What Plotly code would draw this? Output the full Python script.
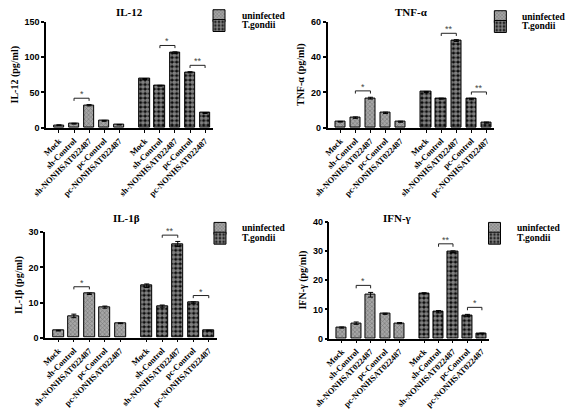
import plotly.graph_objects as go

W, H = 567, 410

categories = ["Mock", "sh-Control", "sh-NONHSAT022487", "pc-Control", "pc-NONHSAT022487"]
groups = ["uninfected", "T.gondii"]

titles = ["IL-12", "TNF-α", "IL-1β", "IFN-γ"]
ytitles = ["IL-12 (pg/ml)", "TNF-α (pg/ml)", "IL-1β (pg/ml)", "IFN-γ (pg/ml)"]

il12_uninf = [4.0, 6.0, 32.0, 10.0, 4.5]
il12_tg = [69.0, 59.5, 106.0, 78.5, 21.0]
il12_uninf_err = [0.4, 0.6, 0.9, 0.7, 0.4]
il12_tg_err = [0.7, 0.6, 1.3, 0.8, 0.6]

tnf_uninf = [3.5, 5.8, 16.8, 8.5, 3.5]
tnf_tg = [20.3, 16.5, 49.3, 16.3, 3.0]
tnf_uninf_err = [0.2, 0.4, 0.5, 0.4, 0.3]
tnf_tg_err = [0.3, 0.3, 0.5, 0.4, 0.3]

il1b_uninf = [2.0, 6.2, 12.5, 8.7, 4.1]
il1b_tg = [14.8, 9.0, 26.7, 10.0, 2.0]
il1b_uninf_err = [0.1, 0.5, 0.2, 0.3, 0.1]
il1b_tg_err = [0.5, 0.3, 0.7, 0.2, 0.1]

ifn_uninf = [3.8, 5.3, 15.0, 8.5, 5.3]
ifn_tg = [15.5, 9.2, 29.7, 7.9, 1.8]
ifn_uninf_err = [0.2, 0.4, 0.8, 0.2, 0.2]
ifn_tg_err = [0.2, 0.4, 0.3, 0.4, 0.1]

panel_values = [
    (il12_uninf, il12_tg, il12_uninf_err, il12_tg_err),
    (tnf_uninf, tnf_tg, tnf_uninf_err, tnf_tg_err),
    (il1b_uninf, il1b_tg, il1b_uninf_err, il1b_tg_err),
    (ifn_uninf, ifn_tg, ifn_uninf_err, ifn_tg_err),
]
y_max = [150, 60, 30, 40]
y_ticks = [[0, 50, 100, 150], [0, 20, 40, 60], [0, 10, 20, 30], [0, 10, 20, 30, 40]]

# significance: (group index, bar i, bar j, label)
significance = [
    [(0, 1, 2, "*"), (1, 1, 2, "*"), (1, 3, 4, "**")],
    [(0, 1, 2, "*"), (1, 1, 2, "**"), (1, 3, 4, "**")],
    [(0, 1, 2, "*"), (1, 1, 2, "**"), (1, 3, 4, "*")],
    [(0, 1, 2, "*"), (1, 1, 2, "**"), (1, 3, 4, "*")],
]

# layout geometry (pixels)
x_px = [(32, 203), (321, 492), (31, 207), (323, 487)]
y_px = [(17, 126), (17, 126), (233, 341), (222, 342)]  # (top, bottom)
title_pos = [(118, 7), (407, 7), (115, 218), (392, 218)]
leg_sw = [(219, 11, 21), (508, 12, 22), (220, 229, 239), (502, 229, 239)]
leg_tx = [231, 519, 231, 514]

group_offset = 5.7
pos = [list(range(len(categories))), [i + group_offset for i in range(len(categories))]]

serif = "Liberation Serif"
sans = "Liberation Sans"

fig = go.Figure()
annotations = []
shapes = []

for p in range(4):
    xa = "x" if p == 0 else f"x{p+1}"
    ya = "y" if p == 0 else f"y{p+1}"
    vals_u, vals_t, err_u, err_t = panel_values[p]
    vals = [vals_u, vals_t]
    errs = [err_u, err_t]
    for g in range(2):
        leg = "legend" if (2 * p + g) == 0 else f"legend{2*p+g+1}"
        if g == 0:
            pattern = dict(shape="x", fgcolor="#505050", bgcolor="#a6a6a6", size=3, solidity=0.4)
            color = "#a6a6a6"
        else:
            pattern = dict(shape=".", fgcolor="white", bgcolor="#000000", size=4.5, solidity=0.7)
            color = "#000000"
        fig.add_trace(go.Bar(
            x=pos[g], y=vals[g], name="",
            width=0.7,
            marker=dict(color=color, pattern=pattern, line=dict(color="black", width=1)),
            error_y=dict(type="data", array=errs[g], color="black", thickness=1, width=2.5),
            xaxis=xa, yaxis=ya, legend=leg, showlegend=True,
        ))
        sx, sy1, sy2 = leg_sw[p]
        sy = sy1 if g == 0 else sy2
        fig.update_layout({
            leg: dict(x=(sx - 30) / W, xanchor="left", y=1 - sy / H, yanchor="middle",
                      bgcolor="rgba(0,0,0,0)", borderwidth=0, font=dict(size=8),
                      itemclick=False, itemdoubleclick=False)
        })
        annotations.append(dict(
            text=groups[g], x=leg_tx[p] / W, y=1 - sy / H, xref="paper", yref="paper",
            xanchor="left", yanchor="middle", showarrow=False,
            font=dict(family=serif, size=9.5, color="black", weight="bold"),
        ))

    rng = y_max[p]
    for (g, i, j, lab) in significance[p]:
        top = max(vals[g][i] + errs[g][i], vals[g][j] + errs[g][j]) + 0.06 * rng
        d = 0.025 * rng
        x1, x2 = pos[g][i], pos[g][j]
        shapes.append(dict(type="path", xref=xa, yref=ya,
                           path=f"M{x1},{top-d} L{x1},{top} L{x2},{top} L{x2},{top-d}",
                           line=dict(color="#222", width=1)))
        annotations.append(dict(text=lab, x=(x1 + x2) / 2, y=top, xref=xa, yref=ya,
                                yanchor="bottom", yshift=-3, showarrow=False,
                                font=dict(family=sans, size=9, color="#444")))

    tx, ty = title_pos[p]
    annotations.append(dict(text=titles[p], x=tx / W, y=1 - ty / H, xref="paper", yref="paper",
                            xanchor="center", yanchor="middle", showarrow=False,
                            font=dict(family=serif, size=11, color="black", weight="bold")))

    x0, x1p = x_px[p]
    yt, yb = y_px[p]
    axis_key = "xaxis" if p == 0 else f"xaxis{p+1}"
    yaxis_key = "yaxis" if p == 0 else f"yaxis{p+1}"
    fig.update_layout({
        axis_key: dict(domain=[x0 / W, x1p / W], range=[-0.85, 10.2], anchor=ya,
                       tickvals=pos[0] + pos[1], ticktext=categories + categories,
                       tickangle=-45, ticks="outside", ticklen=3, tickwidth=1, tickcolor="black",
                       showline=True, linecolor="black", linewidth=1.5,
                       showgrid=False, zeroline=False,
                       tickfont=dict(family=serif, size=8.5, color="black", weight="bold")),
        yaxis_key: dict(domain=[1 - yb / H, 1 - yt / H], range=[0, rng], anchor=xa,
                        tickvals=y_ticks[p], ticks="outside", ticklen=3, tickwidth=1.5,
                        tickcolor="black", showline=True, linecolor="black", linewidth=1.5,
                        showgrid=False, zeroline=False,
                        tickfont=dict(family=sans, size=9, color="black", weight="bold"),
                        title=dict(text=ytitles[p], standoff=4,
                                   font=dict(family=serif, size=10, color="black", weight="bold"))),
    })

fig.update_layout(
    width=W, height=H, margin=dict(l=0, r=0, t=0, b=0),
    paper_bgcolor="white", plot_bgcolor="white",
    barmode="overlay", bargap=0,
    annotations=annotations, shapes=shapes,
    font=dict(family=serif, color="black"),
)

fig.write_html("out.html", config={"displayModeBar": False},
               post_script="document.body.style.margin='0';document.body.style.overflow='hidden';")
